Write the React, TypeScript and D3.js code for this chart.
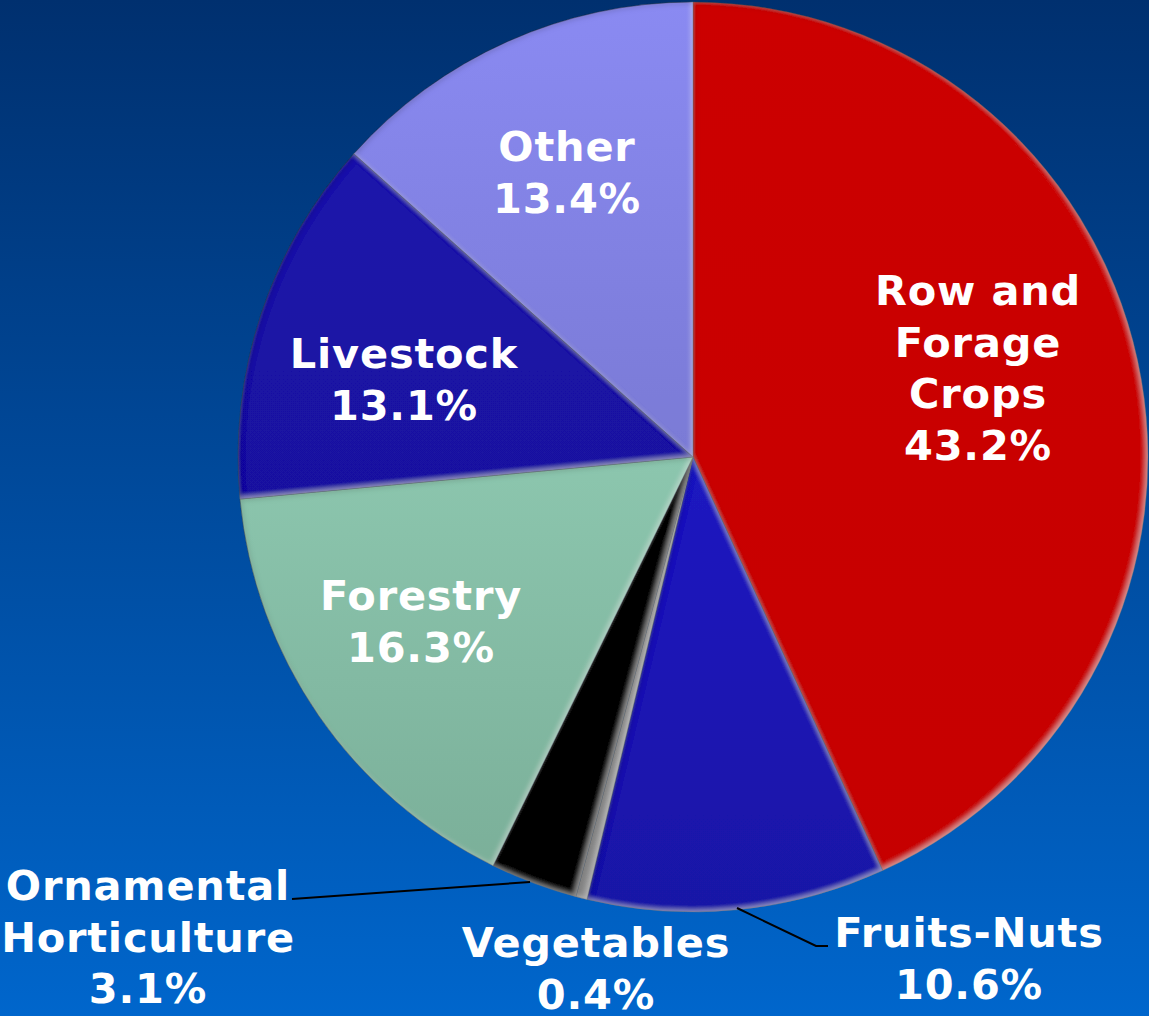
import React from "react";
import * as d3 from "d3";

const categories = ["Row and Forage Crops", "Fruits-Nuts", "Vegetables", "Ornamental Horticulture", "Forestry", "Livestock", "Other"];
const values = [43.2, 10.6, 0.4, 3.1, 16.3, 13.1, 13.4];
const labelLines = [
  ["Row and", "Forage", "Crops", "43.2%"],
  ["Fruits-Nuts", "10.6%"],
  ["Vegetables", "0.4%"],
  ["Ornamental", "Horticulture", "3.1%"],
  ["Forestry", "16.3%"],
  ["Livestock", "13.1%"],
  ["Other", "13.4%"],
];
const topColors = ["#cc0000", "#2222dc", "#b8b8b8", "#0a0a0a", "#9fdfc5", "#1c14b0", "#8a8af2"];
const bottomColors = ["#c60000", "#1912a6", "#8c8c8c", "#000000", "#79ad97", "#170f92", "#6a6ab8"];
// label anchor (center x, first baseline y)
const labelPos: [number, number][] = [
  [978, 305],
  [969, 947],
  [596, 957],
  [148, 900],
  [421, 610],
  [404, 368],
  [567, 161],
];

const W = 1149;
const H = 1016;
const cx = 693;
const cy = 457;
const R = 455;

export default function App() {
  const pie = d3.pie<number>().sort(null).value((d) => d);
  const arcs = pie(values);
  const arc = d3.arc<d3.PieArcDatum<number>>().innerRadius(0).outerRadius(R);
  const line = d3.line();

  return (
    <svg width={W} height={H} style={{ position: "absolute", left: 0, top: 0 }}>
      <defs>
        <linearGradient id="bg" x1="0" y1="0" x2="0" y2="1">
          <stop offset="0" stopColor="#00306f" />
          <stop offset="1" stopColor="#0066cc" />
        </linearGradient>
        {categories.map((c, i) => (
          <linearGradient key={c} id={`g${i}`} gradientUnits="userSpaceOnUse" x1="0" y1={-R} x2="0" y2={R}>
            <stop offset="0" stopColor={topColors[i]} />
            <stop offset="1" stopColor={bottomColors[i]} />
          </linearGradient>
        ))}
        <filter id="bevel" x="-5%" y="-5%" width="110%" height="110%">
          <feGaussianBlur in="SourceAlpha" stdDeviation="2.5" result="blur" />
          <feOffset in="blur" dx="-2" dy="-2" result="o1" />
          <feComposite in="SourceAlpha" in2="o1" operator="out" result="hl" />
          <feFlood floodColor="#ffffff" floodOpacity="0.3" />
          <feComposite in2="hl" operator="in" result="hlc" />
          <feOffset in="blur" dx="2" dy="2" result="o2" />
          <feComposite in="SourceAlpha" in2="o2" operator="out" result="sh" />
          <feFlood floodColor="#000000" floodOpacity="0.3" />
          <feComposite in2="sh" operator="in" result="shc" />
          <feMerge>
            <feMergeNode in="SourceGraphic" />
            <feMergeNode in="hlc" />
            <feMergeNode in="shc" />
          </feMerge>
        </filter>
      </defs>
      <rect x={0} y={0} width={W} height={H} fill="url(#bg)" />
      <g transform={`translate(${cx},${cy})`}>
        {arcs.map((a, i) => (
          <path
            key={categories[i]}
            d={arc(a) || ""}
            fill={`url(#g${i})`}
            stroke="rgba(0,0,0,0.3)"
            strokeWidth={1}
            filter="url(#bevel)"
          />
        ))}
      </g>
      <path d={line([[292, 899], [530, 882]]) || ""} stroke="#000" strokeWidth={2} fill="none" />
      <path d={line([[737, 908], [816, 946], [828, 946]]) || ""} stroke="#000" strokeWidth={2} fill="none" />
      {labelLines.map((lines, i) => (
        <text
          key={categories[i]}
          x={labelPos[i][0]}
          y={labelPos[i][1]}
          textAnchor="middle"
          fill="#ffffff"
          fontFamily="'DejaVu Sans', Verdana, sans-serif"
          fontWeight="bold"
          fontSize={41.5}
          letterSpacing={0.8}
        >
          {lines.map((l, j) => (
            <tspan key={j} x={labelPos[i][0]} dy={j === 0 ? 0 : 51.5}>
              {l}
            </tspan>
          ))}
        </text>
      ))}
    </svg>
  );
}
